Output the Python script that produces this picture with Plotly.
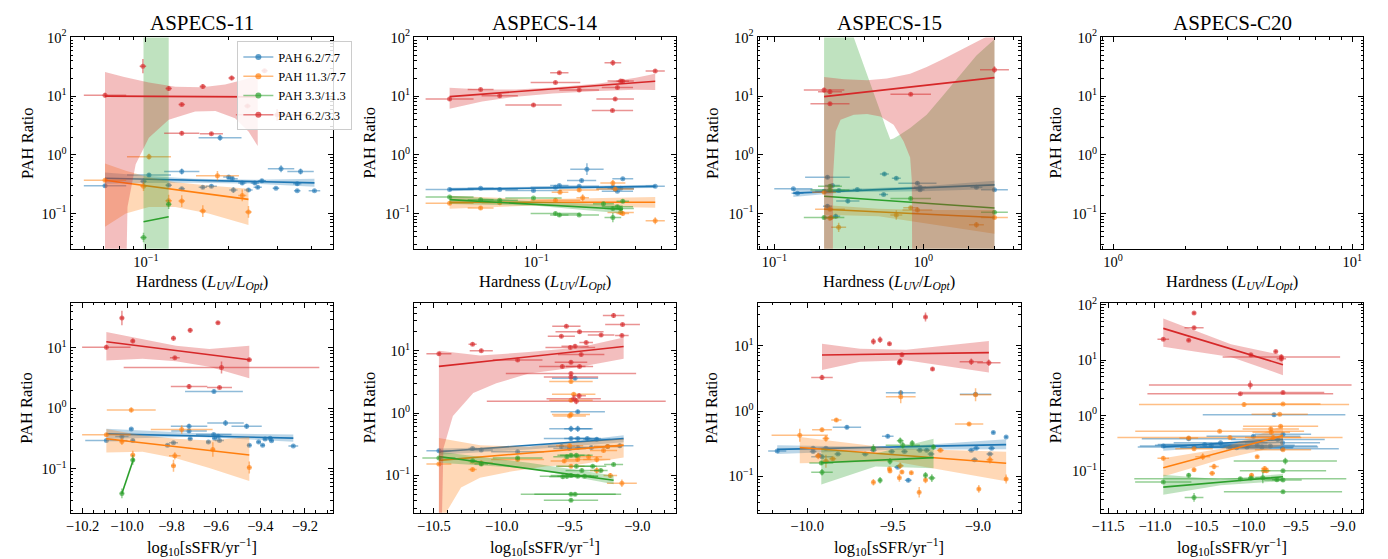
import math
import plotly.graph_objects as go

FONT = "Liberation Serif, Times New Roman, serif"
SERIES_NAMES = ["PAH 6.2/7.7", "PAH 11.3/7.7", "PAH 3.3/11.3", "PAH 6.2/3.3"]
SERIES_RGB = [(31, 119, 180), (255, 127, 14), (44, 160, 44), (214, 39, 40)]
TITLES = ["ASPECS-11", "ASPECS-14", "ASPECS-15", "ASPECS-C20"]
BOT, TOP = 1e-4, 1e4

# points: (x, y, xerr, yerr) ; top row xerr in dex, bottom row xerr linear ; yerr in dex
# ---------------- ASPECS-11 : hardness ----------------
H11_B = [(0.071,0.296,0.077,0.03),(0.098,0.354,0.012,0.05),(0.1026,0.453,0.08,0.03),(0.121,0.303,0.012,0.03),
         (0.135,0.52,0.064,0.05),(0.135,0.263,0.012,0.03),(0.161,0.28,0.015,0.03),(0.173,0.29,0.02,0.03),
         (0.186,1.95,0.078,0.05),(0.20,0.42,0.02,0.03),(0.206,0.39,0.02,0.03),(0.208,0.25,0.015,0.05),
         (0.224,0.33,0.015,0.03),(0.236,0.25,0.015,0.03),(0.249,0.33,0.015,0.03),(0.255,0.28,0.015,0.03),
         (0.264,0.36,0.015,0.03),(0.297,0.27,0.012,0.02),(0.31,0.58,0.048,0.06),(0.355,0.32,0.015,0.03),
         (0.355,0.245,0.012,0.02),(0.365,0.52,0.048,0.05),(0.41,0.244,0.021,0.02)]
H11_O = [(0.071,0.368,0.077,0.03),(0.098,0.29,0.012,0.08),(0.1026,0.93,0.08,0.05),(0.121,0.165,0.012,0.1),
         (0.135,0.163,0.012,0.1),(0.161,0.11,0.012,0.1),(0.182,0.44,0.078,0.08),(0.224,0.203,0.015,0.1),
         (0.236,0.106,0.012,0.1)]
H11_G = [(0.098,0.039,0.012,0.08),(0.121,0.143,0.01,0.08)]
H11_R = [(0.071,10.4,0.077,0.04),(0.0975,32.5,0.012,0.12),(0.121,13.5,0.012,0.04),(0.135,7.2,0.012,0.03),
         (0.161,14.6,0.012,0.04),(0.205,20.4,0.012,0.04),(0.135,2.33,0.064,0.04),(0.173,2.28,0.042,0.03),
         (0.234,6.8,0.012,0.03),(0.27,27.0,0.012,0.03),(0.30,4.8,0.15,0.1)]
H11_FITS = [[(0.071,0.398),(0.41,0.332)], [(0.071,0.368),(0.236,0.174)],
            [(0.098,0.072),(0.121,0.0877)], [(0.071,10.0),(0.255,9.7)]]
H11_B_HI = [(0.071,0.5),(0.1,0.44),(0.15,0.39),(0.25,0.375),(0.41,0.39)]
H11_B_LO = [(0.071,0.32),(0.1,0.33),(0.15,0.335),(0.25,0.32),(0.41,0.285)]
H11_O_HI = [(0.071,0.71),(0.0845,0.536),(0.1025,0.413),(0.128,0.34),(0.169,0.299),(0.236,0.263)]
H11_O_LO = [(0.071,0.0596),(0.0845,0.100),(0.1025,0.129),(0.128,0.129),(0.169,0.10),(0.236,0.0635)]
H11_G_HI = [(0.098,TOP),(0.121,TOP)]
H11_G_LO = [(0.098,BOT),(0.121,BOT)]
H11_R_HI = [(0.071,25.8),(0.0834,21.2),(0.1025,17.1),(0.128,14.4),(0.160,14.2),(0.194,15.8),(0.223,18.7),(0.255,22.6)]
H11_R_LO = [(0.071,BOT),(0.0834,BOT),(0.0857,0.129),(0.0918,0.69),(0.1025,1.95),(0.121,3.96),(0.151,5.47),
            (0.179,5.6),(0.211,4.2),(0.236,2.5),(0.255,1.41)]

# ---------------- ASPECS-14 : hardness ----------------
H14_B = [(0.0384,0.257,0.115,0.02),(0.0541,0.27,0.062,0.02),(0.0668,0.257,0.087,0.02),(0.097,0.247,0.135,0.02),
         (0.1236,0.28,0.119,0.02),(0.129,0.30,0.044,0.02),(0.1606,0.29,0.095,0.02),(0.175,0.57,0.08,0.1),
         (0.165,0.363,0.07,0.03),(0.233,0.28,0.04,0.02),(0.245,0.24,0.075,0.02),(0.254,0.27,0.063,0.02),
         (0.26,0.39,0.05,0.02),(0.239,0.26,0.09,0.02),(0.372,0.29,0.046,0.02)]
H14_O = [(0.0384,0.15,0.115,0.03),(0.0541,0.124,0.062,0.03),(0.0668,0.153,0.087,0.03),(0.1236,0.168,0.119,0.03),
         (0.13,0.23,0.04,0.03),(0.1606,0.25,0.095,0.03),(0.167,0.186,0.03,0.06),(0.233,0.33,0.06,0.05),
         (0.239,0.26,0.09,0.03),(0.254,0.104,0.063,0.04),(0.26,0.10,0.03,0.04),(0.372,0.075,0.046,0.06)]
H14_G = [(0.0384,0.19,0.115,0.02),(0.0541,0.172,0.062,0.02),(0.0668,0.168,0.087,0.02),(0.097,0.183,0.135,0.02),
         (0.1236,0.10,0.119,0.03),(0.129,0.094,0.044,0.03),(0.1606,0.094,0.095,0.02),(0.21,0.147,0.05,0.03),
         (0.233,0.121,0.04,0.03),(0.233,0.085,0.04,0.08),(0.245,0.13,0.075,0.03),(0.254,0.121,0.063,0.03),
         (0.26,0.161,0.03,0.03)]
H14_R = [(0.0384,8.9,0.115,0.03),(0.0541,13.0,0.062,0.03),(0.0668,10.2,0.087,0.03),(0.097,7.1,0.135,0.03),
         (0.1236,17.1,0.119,0.03),(0.129,25.1,0.044,0.03),(0.1606,12.7,0.095,0.03),(0.233,37.0,0.04,0.05),
         (0.245,14.1,0.075,0.03),(0.254,18.2,0.063,0.03),(0.26,18.0,0.03,0.03),(0.239,8.9,0.09,0.03),
         (0.232,5.7,0.099,0.03),(0.372,26.8,0.046,0.03)]
H14_FITS = [[(0.0384,0.257),(0.372,0.29)], [(0.0384,0.155),(0.372,0.155)],
            [(0.0384,0.172),(0.26,0.118)], [(0.0384,9.8),(0.372,17.9)]]
H14_B_HI = [(0.0384,0.275),(0.1,0.285),(0.372,0.31)]
H14_B_LO = [(0.0384,0.24),(0.1,0.262),(0.372,0.272)]
H14_O_HI = [(0.0384,0.2),(0.1,0.175),(0.372,0.19)]
H14_O_LO = [(0.0384,0.12),(0.1,0.137),(0.372,0.125)]
H14_G_HI = [(0.0384,0.2),(0.1,0.16),(0.26,0.14)]
H14_G_LO = [(0.0384,0.145),(0.1,0.135),(0.26,0.1)]
H14_R_HI = [(0.0384,13.9),(0.055,13.0),(0.08,13.0),(0.12,14.0),(0.2,16.5),(0.3,20.5),(0.372,24.2)]
H14_R_LO = [(0.0384,6.1),(0.055,8.1),(0.08,9.8),(0.12,11.1),(0.2,12.3),(0.3,12.8),(0.372,12.7)]

# ---------------- ASPECS-15 : hardness ----------------
H15_B = [(0.134,0.263,0.128,0.02),(0.143,0.222,0.04,0.02),(0.2155,0.24,0.06,0.02),(0.227,0.413,0.15,0.03),
         (0.227,0.133,0.03,0.03),(0.245,0.299,0.05,0.02),(0.271,0.247,0.04,0.02),(0.311,0.163,0.078,0.04),
         (0.36,0.256,0.03,0.02),(0.547,0.47,0.03,0.03),(0.658,0.40,0.03,0.03),(0.541,0.211,0.03,0.02),
         (0.95,0.254,0.03,0.02),(0.912,0.327,0.128,0.03),(0.95,0.28,0.04,0.02),(2.27,0.28,0.04,0.02),
         (3.0,0.254,0.09,0.02),(0.258,0.09,0.03,0.04)]
H15_O = [(0.2155,0.23,0.08,0.03),(0.236,0.118,0.1,0.03),(0.24,0.085,0.05,0.04),(0.27,0.058,0.05,0.08),
         (0.236,0.083,0.03,0.04),(0.658,0.094,0.04,0.08),(0.822,0.125,0.05,0.03),(0.912,0.115,0.1,0.04),
         (2.27,0.064,0.05,0.05),(3.0,0.085,0.09,0.03)]
H15_G = [(0.2155,0.085,0.136,0.03),(0.236,0.29,0.08,0.04),(0.236,0.25,0.131,0.03),(0.822,0.18,0.136,0.03),
         (3.0,0.105,0.09,0.03)]
H15_R = [(0.2155,12.7,0.136,0.04),(0.236,11.9,0.08,0.04),(0.236,7.4,0.131,0.03),(0.822,10.8,0.136,0.03),
         (3.0,28.2,0.097,0.06)]
H15_FITS = [[(0.134,0.222),(3.0,0.307)], [(0.2155,0.118),(3.0,0.0855)],
            [(0.2155,0.196),(3.0,0.124)], [(0.2155,9.8),(3.0,20.7)]]
H15_B_HI = [(0.134,0.26),(0.3,0.26),(1.0,0.29),(3.0,0.36)]
H15_B_LO = [(0.134,0.19),(0.3,0.23),(1.0,0.24),(3.0,0.26)]
H15_O_HI = [(0.2155,0.14),(0.5,0.12),(1.0,0.115),(3.0,0.115)]
H15_O_LO = [(0.2155,0.095),(0.5,0.09),(1.0,0.07),(3.0,0.045)]
H15_G_HI = [(0.2155,TOP),(0.325,TOP),(0.341,100),(0.378,49.2),(0.419,22.6),(0.464,11.1),(0.514,5.47),
            (0.555,3.06),(0.600,1.82),(0.631,1.90),(0.699,2.21),(0.815,2.87),(1.052,4.81),(1.36,10.4),
            (1.755,22.6),(2.27,49.2),(3.0,93.7)]
H15_G_LO = [(0.2155,BOT),(3.0,BOT)]
H15_R_HI = [(0.2155,21.2),(0.293,19.4),(0.419,18.7),(0.569,19.9),(0.815,24.2),(1.052,31.3),(1.36,43.2),
            (1.755,59.7),(2.27,82.4),(2.64,100),(3.0,121)]
H15_R_LO = [(0.2155,BOT),(0.245,BOT),(0.248,0.47),(0.258,2.52),(0.278,3.97),(0.341,4.81),(0.419,4.94),
            (0.514,4.5),(0.631,3.27),(0.736,1.71),(0.815,0.90),(0.836,0.363),(0.849,BOT),(3.0,BOT)]

# ---------------- ASPECS-11 : sSFR ----------------
S11_B = [(-10.093,0.295,0.095,0.02),(-10.023,0.343,0.03,0.02),(-9.981,0.456,0.01,0.02),(-9.974,0.295,0.01,0.02),
         (-9.818,0.245,0.01,0.02),(-9.791,0.27,0.02,0.02),(-9.721,0.505,0.082,0.04),(-9.721,0.42,0.08,0.03),
         (-9.716,0.314,0.01,0.02),(-9.634,0.277,0.01,0.02),(-9.61,0.37,0.08,0.02),(-9.606,0.32,0.01,0.02),
         (-9.609,1.91,0.13,0.03),(-9.59,0.346,0.02,0.02),(-9.584,0.295,0.02,0.02),(-9.557,0.571,0.082,0.05),
         (-9.462,0.505,0.068,0.04),(-9.45,0.245,0.01,0.02),(-9.408,0.277,0.01,0.02),(-9.39,0.245,0.01,0.02),
         (-9.379,0.31,0.01,0.02),(-9.356,0.32,0.01,0.02),(-9.35,0.29,0.01,0.02),(-9.252,0.239,0.022,0.02)]
S11_O = [(-10.093,0.365,0.109,0.03),(-10.023,0.284,0.01,0.06),(-9.981,0.94,0.11,0.04),(-9.974,0.169,0.01,0.07),
         (-9.791,0.112,0.01,0.1),(-9.785,0.164,0.026,0.06),(-9.754,0.445,0.139,0.07),(-9.614,0.208,0.01,0.12),
         (-9.45,0.105,0.01,0.1)]
S11_G = [(-10.023,0.039,0.01,0.08),(-9.974,0.14,0.01,0.08)]
S11_R = [(-10.093,10.3,0.109,0.04),(-10.023,31.4,0.01,0.12),(-9.974,13.1,0.01,0.04),(-9.791,14.5,0.01,0.04),
         (-9.785,6.9,0.022,0.03),(-9.716,19.6,0.01,0.04),(-9.591,26.1,0.01,0.03),(-9.575,4.74,0.44,0.1),
         (-9.45,6.4,0.01,0.03),(-9.721,2.30,0.082,0.04),(-9.584,2.22,0.056,0.03)]
S11_FITS = [[(-10.093,0.378),(-9.252,0.322)], [(-10.093,0.314),(-9.45,0.169)],
            [(-10.023,0.039),(-9.97,0.148)], [(-10.093,12.7),(-9.45,6.4)]]
S11_B_HI = [(-10.093,0.46),(-9.7,0.39),(-9.252,0.37)]
S11_B_LO = [(-10.093,0.31),(-9.7,0.34),(-9.252,0.28)]
S11_O_HI = [(-10.093,0.456),(-9.93,0.356),(-9.78,0.314),(-9.63,0.295),(-9.45,0.334)]
S11_O_LO = [(-10.093,0.186),(-9.93,0.191),(-9.78,0.149),(-9.63,0.103),(-9.45,0.0624)]
S11_R_HI = [(-10.093,18.4),(-9.93,14.0),(-9.78,10.9),(-9.63,9.6),(-9.45,10.9)]
S11_R_LO = [(-10.093,6.2),(-9.93,6.6),(-9.78,6.0),(-9.63,4.9),(-9.45,3.14)]

# ---------------- ASPECS-14 : sSFR ----------------
S14_B = [(-10.463,0.249,0.092,0.02),(-10.215,0.271,0.03,0.02),(-10.151,0.256,0.085,0.02),(-9.883,0.24,0.195,0.02),
         (-9.46,3.6,0.17,0.03),(-9.44,1.05,0.2,0.03),(-9.49,0.56,0.16,0.05),(-9.44,0.56,0.1,0.05),
         (-9.49,0.39,0.2,0.03),(-9.44,0.39,0.1,0.03),(-9.37,0.39,0.1,0.03),(-9.30,0.38,0.1,0.03),
         (-9.56,0.29,0.1,0.03),(-9.44,0.28,0.1,0.03),(-9.34,0.28,0.1,0.03),(-9.22,0.29,0.1,0.03),
         (-9.13,0.30,0.1,0.03),(-9.5,0.27,0.12,0.02)]
S14_O = [(-10.463,0.152,0.092,0.02),(-10.215,0.124,0.03,0.03),(-10.151,0.158,0.085,0.04),(-9.883,0.18,0.195,0.03),
         (-9.49,3.2,0.16,0.03),(-9.47,2.0,0.16,0.03),(-9.49,1.6,0.16,0.03),(-9.5,0.9,0.12,0.03),
         (-9.49,0.95,0.14,0.03),(-9.54,0.17,0.1,0.03),(-9.44,0.18,0.1,0.03),(-9.36,0.2,0.1,0.03),
         (-9.3,0.18,0.1,0.05),(-9.25,0.25,0.1,0.03),(-9.22,0.29,0.1,0.03),(-9.5,0.3,0.1,0.03),
         (-9.2,0.1,0.05,0.04),(-9.115,0.075,0.11,0.06),(-9.3,0.12,0.05,0.05),(-9.49,0.14,0.1,0.03)]
S14_G = [(-10.463,0.19,0.122,0.02),(-10.215,0.172,0.03,0.02),(-10.151,0.152,0.05,0.03),(-9.883,0.19,0.183,0.02),
         (-9.52,0.2,0.1,0.03),(-9.49,0.21,0.1,0.03),(-9.45,0.21,0.12,0.03),(-9.52,0.097,0.2,0.04),
         (-9.49,0.1,0.15,0.03),(-9.44,0.097,0.15,0.03),(-9.39,0.097,0.1,0.03),(-9.45,0.14,0.15,0.03),
         (-9.41,0.12,0.12,0.03),(-9.33,0.14,0.1,0.03),(-9.176,0.15,0.07,0.03),(-9.27,0.12,0.05,0.03),
         (-9.49,0.05,0.37,0.03),(-9.46,0.05,0.3,0.03),(-9.49,0.04,0.2,0.03),(-9.55,0.095,0.1,0.03)]
S14_R = [(-10.463,8.9,0.092,0.03),(-10.215,12.7,0.03,0.03),(-10.151,10.0,0.085,0.03),(-9.883,7.1,0.183,0.03),
         (-9.561,17.0,0.1,0.03),(-9.524,24.7,0.104,0.03),(-9.427,20.1,0.177,0.03),(-9.378,13.5,0.05,0.03),
         (-9.495,11.3,0.183,0.03),(-9.46,11.8,0.1,0.03),(-9.415,8.65,0.171,0.03),(-9.268,17.8,0.098,0.03),
         (-9.176,36.6,0.079,0.04),(-9.115,17.6,0.05,0.03),(-9.110,26.2,0.128,0.03),(-9.554,5.6,0.171,0.03),
         (-9.427,5.6,0.1,0.03),(-9.49,6.5,0.12,0.03),(-9.49,4.3,0.48,0.03),(-9.49,3.8,0.2,0.03),
         (-9.451,1.55,0.659,0.05),(-9.47,1.7,0.2,0.03),(-9.43,1.9,0.05,0.04)]
S14_FITS = [[(-10.463,0.240),(-9.102,0.389)], [(-10.463,0.174),(-9.102,0.306)],
            [(-10.463,0.201),(-9.176,0.0836)], [(-10.463,5.6),(-9.102,11.7)]]
S14_B_HI = [(-10.463,0.27),(-9.8,0.29),(-9.102,0.44)]
S14_B_LO = [(-10.463,0.215),(-9.8,0.26),(-9.102,0.34)]
S14_O_HI = [(-10.463,0.398),(-10.16,0.306),(-9.8,0.288),(-9.43,0.345),(-9.102,0.389)]
S14_O_LO = [(-10.463,BOT),(-10.40,0.0276),(-10.30,0.064),(-10.16,0.092),(-9.92,0.117),(-9.67,0.14),
            (-9.43,0.149),(-9.102,0.194)]
S14_G_HI = [(-10.463,0.24),(-9.8,0.16),(-9.176,0.1)]
S14_G_LO = [(-10.463,0.16),(-9.8,0.13),(-9.176,0.072)]
S14_R_HI = [(-10.463,10.0),(-10.16,8.35),(-9.8,9.5),(-9.43,11.3),(-9.102,16.2)]
S14_R_LO = [(-10.463,BOT),(-10.43,0.27),(-10.36,0.9),(-10.21,2.09),(-10.04,3.0),(-9.8,4.3),(-9.43,5.48),
            (-9.102,7.4)]

# ---------------- ASPECS-15 : sSFR ----------------
S15_B = [(-10.175,0.243,0.053,0.02),(-9.965,0.27,0.02,0.02),(-9.965,0.24,0.02,0.02),(-9.93,0.21,0.02,0.02),
         (-9.913,0.2,0.063,0.02),(-9.89,0.27,0.02,0.02),(-9.82,0.22,0.02,0.02),(-9.767,0.565,0.083,0.03),
         (-9.66,0.22,0.02,0.02),(-9.612,0.25,0.02,0.02),(-9.528,0.41,0.034,0.03),(-9.47,0.138,0.02,0.02),
         (-9.505,0.24,0.02,0.02),(-9.452,1.9,0.087,0.03),(-9.43,0.24,0.02,0.02),(-9.408,0.087,0.02,0.03),
         (-9.34,0.25,0.02,0.02),(-9.30,0.25,0.02,0.02),(-9.275,0.22,0.02,0.02),(-9.039,0.25,0.02,0.02),
         (-9.01,0.27,0.02,0.02),(-9.014,1.8,0.092,0.03),(-9.02,0.18,0.02,0.02),(-8.91,0.47,0.01,0.02),
         (-8.92,0.27,0.02,0.02),(-8.93,0.22,0.02,0.02),(-8.835,0.4,0.01,0.02)]
S15_O = [(-10.043,0.424,0.165,0.1),(-9.935,0.205,0.02,0.05),(-9.913,0.515,0.058,0.03),(-9.89,0.17,0.02,0.1),
         (-9.89,0.38,0.02,0.05),(-9.85,0.185,0.02,0.03),(-9.829,0.728,0.03,0.03),(-9.612,0.081,0.01,0.05),
         (-9.518,0.13,0.01,0.03),(-9.515,0.12,0.01,0.03),(-9.46,0.095,0.01,0.06),(-9.455,0.145,0.02,0.05),
         (-9.445,0.116,0.01,0.03),(-9.39,0.113,0.01,0.03),(-9.344,0.057,0.01,0.08),(-9.307,0.088,0.01,0.05),
         (-9.22,0.25,0.02,0.03),(-9.052,0.63,0.083,0.03),(-9.014,1.78,0.092,0.1),(-9.452,1.65,0.087,0.1),
         (-8.995,0.064,0.01,0.06),(-8.93,0.18,0.02,0.06),(-8.835,0.091,0.01,0.07)]
S15_G = [(-9.917,0.16,0.07,0.03),(-9.913,0.115,0.063,0.05),(-9.612,0.27,0.01,0.06),(-9.573,0.087,0.01,0.05),
         (-9.515,0.17,0.01,0.05),(-9.455,0.35,0.02,0.05),(-9.44,0.30,0.1,0.05),(-9.385,0.32,0.01,0.05),
         (-9.307,0.104,0.01,0.05),(-9.27,0.094,0.02,0.06),(-9.26,0.28,0.01,0.04)]
S15_R = [(-9.913,3.27,0.063,0.04),(-9.612,11.6,0.01,0.05),(-9.573,12.4,0.01,0.05),(-9.518,10.7,0.01,0.03),
         (-9.46,5.5,0.01,0.04),(-9.455,5.8,0.01,0.04),(-9.445,7.3,0.01,0.03),(-9.307,27.6,0.01,0.07),
         (-9.266,4.4,0.01,0.03),(-9.039,5.7,0.068,0.05),(-8.936,5.5,0.068,0.05)]
S15_FITS = [[(-10.175,0.258),(-8.835,0.306)], [(-10.043,0.276),(-8.835,0.158)],
            [(-9.917,0.161),(-9.26,0.193)], [(-9.913,7.2),(-8.936,7.85)]]
S15_B_HI = [(-10.175,0.3),(-9.5,0.28),(-8.835,0.37)]
S15_B_LO = [(-10.175,0.22),(-9.5,0.255),(-8.835,0.26)]
S15_O_HI = [(-10.043,0.40),(-9.49,0.267),(-8.835,0.238)]
S15_O_LO = [(-10.043,0.158),(-9.49,0.168),(-8.835,0.084)]
S15_G_HI = [(-9.917,0.267),(-9.6,0.224),(-9.26,0.377)]
S15_G_LO = [(-9.917,0.075),(-9.6,0.141),(-9.26,0.133)]
S15_R_HI = [(-9.913,10.7),(-9.69,9.0),(-9.42,8.7),(-8.936,11.8)]
S15_R_LO = [(-9.913,4.26),(-9.69,5.7),(-9.42,6.0),(-8.936,3.9)]

# ---------------- ASPECS-C20 : sSFR ----------------
S20_B = [(-10.911,0.28,0.25,0.02),(-10.64,0.38,0.5,0.03),(-10.583,0.27,0.6,0.02),(-10.47,0.3,0.5,0.02),
         (-10.4,0.29,0.6,0.02),(-10.3,0.32,0.5,0.02),(-10.2,0.27,0.4,0.02),(-10.13,0.26,0.6,0.02),
         (-10.02,0.27,0.5,0.02),(-9.95,0.42,0.5,0.03),(-9.91,0.29,0.4,0.02),(-9.86,0.27,0.6,0.02),
         (-9.77,0.28,0.5,0.02),(-9.73,1.03,0.76,0.03),(-9.69,0.37,0.5,0.02),(-9.64,0.32,0.4,0.02),
         (-9.635,0.46,0.3,0.02),(-9.64,0.25,0.6,0.02)]
S20_O = [(-10.911,0.168,0.062,0.04),(-10.64,0.39,0.1,0.03),(-10.2,0.4,1.2,0.03),(-10.583,0.104,0.02,0.04),
         (-10.583,0.25,0.2,0.03),(-10.49,0.18,0.08,0.06),(-10.37,0.12,0.05,0.05),(-10.39,0.09,0.03,0.04),
         (-10.31,0.52,0.9,0.03),(-10.05,1.58,1.12,0.04),(-9.97,0.083,0.02,0.04),(-9.91,0.18,0.02,0.03),
         (-9.83,0.11,0.04,0.04),(-9.81,0.1,0.04,0.04),(-9.84,0.1,0.02,0.04),(-9.765,0.57,0.3,0.04),
         (-9.76,0.5,0.2,0.04),(-9.74,0.4,0.3,0.04),(-9.67,1.05,0.3,0.02),(-9.66,0.64,0.4,0.03),
         (-9.635,1.62,0.4,0.02),(-9.635,0.24,0.3,0.02)]
S20_G = [(-10.911,0.063,0.3,0.03),(-10.64,0.083,0.02,0.04),(-10.583,0.033,0.1,0.08),(-10.09,0.072,1.13,0.03),
         (-9.977,0.074,0.03,0.03),(-9.85,0.075,0.08,0.1),(-9.7,0.069,0.05,0.03),(-9.635,0.068,0.2,0.03),
         (-9.635,0.1,0.46,0.03),(-9.61,0.15,0.55,0.06),(-9.635,0.042,0.63,0.03)]
S20_R = [(-10.911,24.0,0.062,0.03),(-10.583,71.0,0.02,0.03),(-10.583,38.6,0.102,0.03),(-10.64,23.0,0.02,0.03),
         (-9.977,12.6,0.02,0.03),(-9.712,14.3,0.02,0.03),(-9.652,11.4,0.626,0.05),(-9.652,10.6,0.05,0.05),
         (-9.984,3.57,1.08,0.08),(-10.09,2.47,0.99,0.03),(-9.635,2.61,0.44,0.03)]
S20_FITS = [[(-10.911,0.27),(-9.635,0.37)], [(-10.911,0.114),(-9.635,0.434)],
            [(-10.911,0.0506),(-9.635,0.078)], [(-10.911,37.6),(-9.635,8.3)]]
S20_B_HI = [(-10.911,0.31),(-10.3,0.31),(-9.635,0.42)]
S20_B_LO = [(-10.911,0.23),(-10.3,0.27),(-9.635,0.32)]
S20_O_HI = [(-10.911,0.168),(-10.3,0.25),(-9.635,0.653)]
S20_O_LO = [(-10.911,0.079),(-10.3,0.16),(-9.635,0.288)]
S20_G_HI = [(-10.911,0.085),(-10.3,0.07),(-9.635,0.0875)]
S20_G_LO = [(-10.911,0.037),(-10.3,0.055),(-9.635,0.065)]
S20_R_HI = [(-10.911,56.5),(-10.19,19.5),(-9.635,12.2)]
S20_R_LO = [(-10.911,17.5),(-10.19,11.4),(-9.635,5.37)]

# axis ranges (log10 units for log axes)
TOP_XRANGE = [[-1.274, -0.321], [-1.586, -0.329], [-1.113, 0.653], [-0.05, 1.046]]
TOP_YRANGE = [-1.6, 2.0]
BOT_XRANGE = [[-10.254, -9.075], [-10.646, -8.715], [-10.29, -8.75], [-11.574, -8.78]]
BOT_YRANGE = [[-1.73, 1.75], [-1.6, 1.77], [-1.56, 1.66], [-1.76, 2.04]]
BOT_XTICK = [(0.2, 0.05), (0.5, 0.1), (0.5, 0.1), (0.5, 0.1)]

PANELS = [
    dict(logx=True, pts=[H11_B, H11_O, H11_G, H11_R], fits=H11_FITS,
         bands=[(H11_B_HI, H11_B_LO), (H11_O_HI, H11_O_LO), (H11_G_HI, H11_G_LO), (H11_R_HI, H11_R_LO)]),
    dict(logx=True, pts=[H14_B, H14_O, H14_G, H14_R], fits=H14_FITS,
         bands=[(H14_B_HI, H14_B_LO), (H14_O_HI, H14_O_LO), (H14_G_HI, H14_G_LO), (H14_R_HI, H14_R_LO)]),
    dict(logx=True, pts=[H15_B, H15_O, H15_G, H15_R], fits=H15_FITS,
         bands=[(H15_B_HI, H15_B_LO), (H15_O_HI, H15_O_LO), (H15_G_HI, H15_G_LO), (H15_R_HI, H15_R_LO)]),
    dict(logx=True, pts=[], fits=[], bands=[]),
    dict(logx=False, pts=[S11_B, S11_O, S11_G, S11_R], fits=S11_FITS,
         bands=[(S11_B_HI, S11_B_LO), (S11_O_HI, S11_O_LO), None, (S11_R_HI, S11_R_LO)]),
    dict(logx=False, pts=[S14_B, S14_O, S14_G, S14_R], fits=S14_FITS,
         bands=[(S14_B_HI, S14_B_LO), (S14_O_HI, S14_O_LO), (S14_G_HI, S14_G_LO), (S14_R_HI, S14_R_LO)]),
    dict(logx=False, pts=[S15_B, S15_O, S15_G, S15_R], fits=S15_FITS,
         bands=[(S15_B_HI, S15_B_LO), (S15_O_HI, S15_O_LO), (S15_G_HI, S15_G_LO), (S15_R_HI, S15_R_LO)]),
    dict(logx=False, pts=[S20_B, S20_O, S20_G, S20_R], fits=S20_FITS,
         bands=[(S20_B_HI, S20_B_LO), (S20_O_HI, S20_O_LO), (S20_G_HI, S20_G_LO), (S20_R_HI, S20_R_LO)]),
]

W, H = 1388, 559
XDOM_PX = [(61, 325), (407, 671), (753, 1018), (1099, 1363)]
YDOM_PX = [(28, 243), (298, 512)]
TICK_SIZE, LABEL_SIZE, TITLE_SIZE, LEGEND_SIZE = 14.5, 16.5, 21, 12.5


def rgba(c, a):
    return "rgba(%d,%d,%d,%.3f)" % (c[0], c[1], c[2], a)


def sup(k):
    return "10<sup>%s</sup>" % (str(k).replace("-", "\u2212"))


fig = go.Figure()

for i, p in enumerate(PANELS):
    ax = "" if i == 0 else str(i + 1)
    xr, yr = "x" + ax, "y" + ax
    if not p["pts"]:
        # empty panel: an invisible trace so that the axes are drawn
        fig.add_trace(go.Scatter(x=[2], y=[1], mode="markers", xaxis=xr, yaxis=yr,
                                 marker=dict(opacity=0), showlegend=False, hoverinfo="skip"))
    for s in range(len(p["pts"])):
        c = SERIES_RGB[s]
        pts = p["pts"][s]
        xs = [q[0] for q in pts]
        ys = [q[1] for q in pts]
        if p["logx"]:
            ex_p = [q[0] * (10 ** q[2] - 1) for q in pts]
            ex_m = [q[0] * (1 - 10 ** (-q[2])) for q in pts]
        else:
            ex_p = [q[2] for q in pts]
            ex_m = ex_p
        ey_p = [q[1] * (10 ** q[3] - 1) for q in pts]
        ey_m = [q[1] * (1 - 10 ** (-q[3])) for q in pts]
        fig.add_trace(go.Scatter(
            x=xs, y=ys, mode="markers", xaxis=xr, yaxis=yr, showlegend=False, hoverinfo="skip",
            marker=dict(color=rgba(c, 0.6), size=5),
            error_x=dict(type="data", symmetric=False, array=ex_p, arrayminus=ex_m,
                         color=rgba(c, 0.5), thickness=1.5, width=0),
            error_y=dict(type="data", symmetric=False, array=ey_p, arrayminus=ey_m,
                         color=rgba(c, 0.5), thickness=1.5, width=0)))
        band = p["bands"][s]
        if band is not None:
            hi, lo = band
            bx = [q[0] for q in hi] + [q[0] for q in lo][::-1]
            by = [q[1] for q in hi] + [q[1] for q in lo][::-1]
            fig.add_trace(go.Scatter(
                x=bx, y=by, mode="lines", fill="toself", fillcolor=rgba(c, 0.3),
                line=dict(width=0, color="rgba(0,0,0,0)"), xaxis=xr, yaxis=yr,
                showlegend=False, hoverinfo="skip"))
        f = p["fits"][s]
        fig.add_trace(go.Scatter(
            x=[f[0][0], f[1][0]], y=[f[0][1], f[1][1]], mode="lines", xaxis=xr, yaxis=yr,
            line=dict(color=rgba(c, 1.0), width=1.6), showlegend=False, hoverinfo="skip"))

# legend entries
for s in range(4):
    c = SERIES_RGB[s]
    fig.add_trace(go.Scatter(
        x=[None], y=[None], mode="lines+markers", name=SERIES_NAMES[s], xaxis="x", yaxis="y",
        line=dict(color=rgba(c, 0.55), width=1.5), marker=dict(color=rgba(c, 0.7), size=6)))

layout = dict(
    width=W, height=H, margin=dict(l=0, r=0, t=0, b=0),
    paper_bgcolor="white", plot_bgcolor="white",
    font=dict(family=FONT, size=TICK_SIZE, color="black"),
    showlegend=True,
    legend=dict(x=229 / W, y=1 - 32 / H, xanchor="left", yanchor="top",
                bgcolor="rgba(255,255,255,0.85)", bordercolor="#cccccc", borderwidth=1,
                font=dict(family=FONT, size=LEGEND_SIZE, color="black"), tracegroupgap=0,
                itemwidth=30),
)

common = dict(showline=True, linecolor="black", linewidth=1, mirror="ticks", ticks="inside",
              ticklen=5, tickwidth=0.8, tickcolor="black", showgrid=False, zeroline=False,
              tickfont=dict(family=FONT, size=TICK_SIZE, color="black"))

annotations = []
for i in range(8):
    row, col = divmod(i, 4)
    ax = "" if i == 0 else str(i + 1)
    x0, x1 = XDOM_PX[col]
    y0, y1 = YDOM_PX[row]
    xdom = [x0 / W, x1 / W]
    ydom = [1 - y1 / H, 1 - y0 / H]
    if row == 0:
        lo, hi = TOP_XRANGE[col]
        k0, k1 = math.floor(lo), math.ceil(hi)
        majors = [10.0 ** k for k in range(k0, k1 + 1)]
        minors = [m * 10.0 ** k for k in range(k0, k1 + 1) for m in range(2, 10)]
        xa = dict(common, type="log", domain=xdom, range=[lo, hi], anchor="y" + ax,
                  tickmode="array", tickvals=majors, ticktext=[sup(k) for k in range(k0, k1 + 1)],
                  minor=dict(tickmode="array", tickvals=minors, ticks="inside", ticklen=2.5,
                             tickwidth=0.7, tickcolor="black"))
        yrange = TOP_YRANGE
    else:
        d, md = BOT_XTICK[col]
        xa = dict(common, type="linear", domain=xdom, range=BOT_XRANGE[col], anchor="y" + ax,
                  tick0=-12, dtick=d, tickformat=".1f",
                  minor=dict(dtick=md, tick0=-12, ticks="inside", ticklen=2.5, tickwidth=0.7,
                             tickcolor="black"))
        yrange = BOT_YRANGE[col]
    ymin, ymax = yrange
    e0, e1 = math.floor(ymin), math.ceil(ymax)
    ymaj = [10.0 ** k for k in range(e0, e1 + 1)]
    ymin_t = [m * 10.0 ** k for k in range(e0, e1 + 1) for m in range(2, 10)]
    ya = dict(common, type="log", domain=ydom, range=[ymin, ymax], anchor="x" + ax,
              tickmode="array", tickvals=ymaj, ticktext=[sup(k) for k in range(e0, e1 + 1)],
              minor=dict(tickmode="array", tickvals=ymin_t, ticks="inside", ticklen=2.5,
                         tickwidth=0.7, tickcolor="black"))
    layout["xaxis" + ax] = xa
    layout["yaxis" + ax] = ya

    ylab_x = [17, 362, 707, 1053][col]
    annotations.append(dict(text="PAH Ratio", textangle=-90, xref="paper", yref="paper",
                            x=ylab_x / W, y=1 - ((y0 + y1) / 2) / H, showarrow=False,
                            xanchor="center", yanchor="middle",
                            font=dict(family=FONT, size=LABEL_SIZE, color="black")))
    if row == 0:
        xt = "Hardness (<i>L</i><sub><i>UV</i></sub>/<i>L</i><sub><i>Opt</i></sub>)"
        xlab_y = 277
    else:
        xt = "log<sub>10</sub>[sSFR/yr<sup>\u22121</sup>]"
        xlab_y = 547
    annotations.append(dict(text=xt, xref="paper", yref="paper", x=((x0 + x1) / 2) / W,
                            y=1 - xlab_y / H, showarrow=False, xanchor="center", yanchor="middle",
                            font=dict(family=FONT, size=LABEL_SIZE, color="black")))
    if row == 0:
        annotations.append(dict(text=TITLES[col], xref="paper", yref="paper", x=((x0 + x1) / 2) / W,
                                y=1 - 13 / H, showarrow=False, xanchor="center", yanchor="middle",
                                font=dict(family=FONT, size=TITLE_SIZE, color="black")))

layout["annotations"] = annotations
fig.update_layout(**layout)
fig.write_html("out.html")
